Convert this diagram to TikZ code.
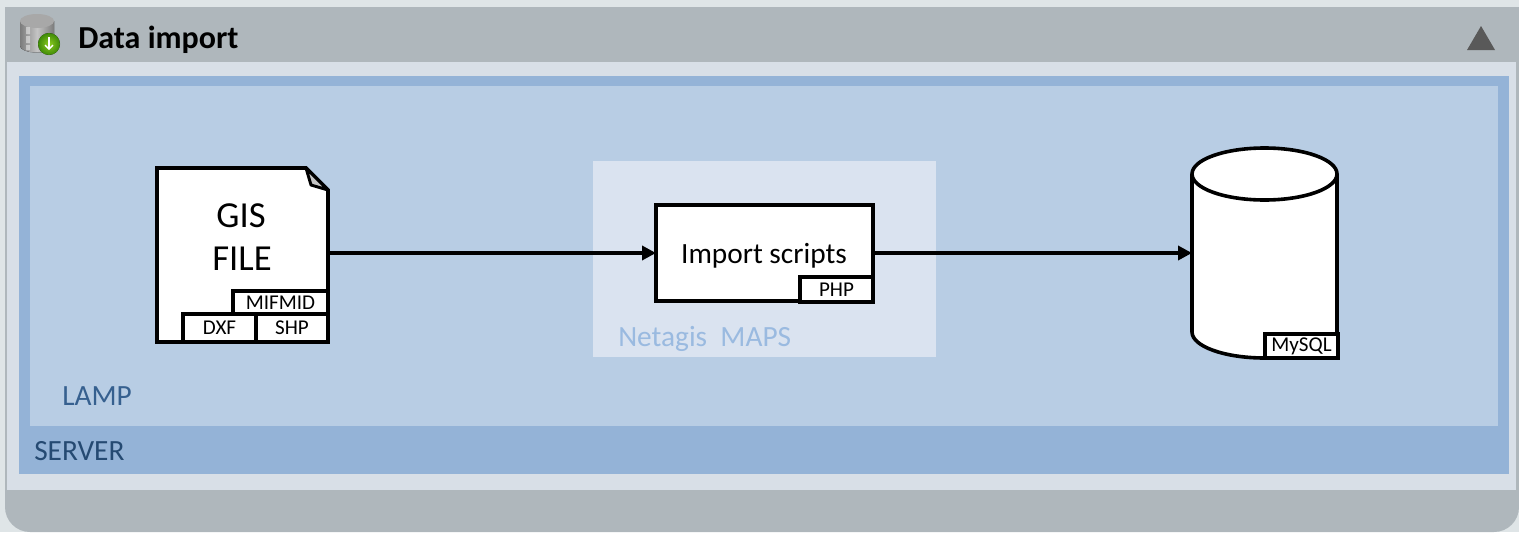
\documentclass[tikz,border=0pt]{standalone}
\usepackage{fontspec}
\setmainfont{Carlito}
\usetikzlibrary{arrows.meta,shadings}
\definecolor{pagebg}{HTML}{DFE5E7}
\definecolor{barcol}{HTML}{AFB7BC}
\definecolor{panelcol}{HTML}{D8DFE7}
\definecolor{servercol}{HTML}{94B3D7}
\definecolor{lampcol}{HTML}{B8CDE4}
\definecolor{mapscol}{HTML}{DAE3F0}
\definecolor{serverink}{HTML}{254A72}
\definecolor{lampink}{HTML}{36608F}
\definecolor{mapsink}{HTML}{9ABAE0}
\definecolor{trianglecol}{HTML}{595959}
\definecolor{ballin}{HTML}{8CCB1E}
\definecolor{ballout}{HTML}{3F8A08}
\definecolor{cylside}{HTML}{7C7C7C}
\definecolor{cylmid}{HTML}{C4C4C4}
\definecolor{cyltop}{HTML}{A8A8A8}
\tikzset{
  px/.style={x=0.75pt,y=-0.75pt},
  heavy/.style={draw=black,line width=2.7pt,line join=miter},
  boxed/.style={heavy,fill=white,inner sep=0pt,outer sep=0pt,anchor=north west,text=black,font=\fontsize{15.8pt}{18pt}\selectfont},
  anchorbox/.style={inner sep=0pt,outer sep=0pt,anchor=north west},
  flow/.style={draw=black,line width=2.7pt,-{Triangle[length=10.5pt,width=10.5pt]},shorten <=0pt,shorten >=0pt},
  biglabel/.style={inner sep=0pt,font=\fontsize{27.5pt}{32pt}\selectfont,text=black},
  tier/.style={inner sep=0pt,anchor=base west,font=\fontsize{22pt}{26pt}\selectfont},
}
\begin{document}
\begin{tikzpicture}[px]
\useasboundingbox (0,0) rectangle (1519,532);
\fill[pagebg] (0,0) rectangle (1519,532);
% panel
\fill[barcol] (5,7) -- (1519,7) -- (1519,507) arc[start angle=0,end angle=90,radius=25] -- (30,532) arc[start angle=90,end angle=180,radius=25] -- cycle;
\fill[panelcol] (7,62) rectangle (1516,490);
\fill[servercol] (19,76) rectangle (1509,474);
\fill[lampcol] (30,86) rectangle (1498,426);
\fill[mapscol] (593,161) rectangle (936,357);
% header
\fill[trianglecol] (1467,50) -- (1495,50) -- (1481,26) -- cycle;
\node[inner sep=0pt,anchor=base west,font=\bfseries\fontsize{24pt}{28pt}\selectfont] (title) at (78,48) {Data import};
% icon
\fill[left color=cylside,right color=cylside,middle color=cylmid] (20,21) -- (20,46) arc[start angle=180,end angle=0,x radius=17,y radius=6.5] -- (54,21) -- cycle;
\fill[cyltop] (37,21) ellipse[x radius=17,y radius=7];
\fill[white,opacity=.45] (26,27) rectangle (30,34) (26,36) rectangle (30,43) (26,45) rectangle (30,50);
\fill[inner color=ballin,outer color=ballout] (49,44) circle[radius=11];
\draw[white,line width=1pt,-{Straight Barb[length=3pt,width=6pt]}] (49,37) -- (49,50);
% tier labels
\node[tier,text=serverink] (server) at (34,460) {SERVER};
\node[tier,text=lampink] (lamp) at (62,405) {LAMP};
\node[tier,text=mapsink] (maps) at (618,346) {Netagis\ \ MAPS};
% GIS file
\filldraw[heavy,fill=white] (157,168) -- (306,168) -- (328,190) -- (328,342) -- (157,342) -- cycle;
\filldraw[draw=black,line width=2.2pt,line join=round,fill=gray!45] (306,168) -- (311,185) -- (328,190) -- cycle;
\node[anchorbox,minimum width=171*0.75pt,minimum height=174*0.75pt] (file) at (157,168) {};
\node[biglabel] (gis) at (241,216) {GIS};
\node[biglabel] (filelabel) at (242,259) {FILE};
\node[boxed,minimum width=95*0.75pt,minimum height=24*0.75pt] (mif) at (233,291) {MIFMID};
\node[boxed,minimum width=73*0.75pt,minimum height=28*0.75pt] (dxf) at (183,314) {DXF};
\node[boxed,minimum width=72*0.75pt,minimum height=28*0.75pt] (shp) at (256,314) {SHP};
% Import box
\node[boxed,minimum width=217*0.75pt,minimum height=96*0.75pt] (import) at (656,205) {};
\node[inner sep=0pt,font=\fontsize{22pt}{26pt}\selectfont] (importlabel) at (764,256) {Import scripts};
\node[boxed,minimum width=73*0.75pt,minimum height=25*0.75pt] (php) at (800,277) {PHP};
% database
\filldraw[heavy,fill=white] (1192,174) -- (1192,332) arc[start angle=180,end angle=90,x radius=72.5,y radius=26] -- (1337,358) -- (1337,174) arc[start angle=0,end angle=-180,x radius=72.5,y radius=26] -- cycle;
\draw[heavy] (1192,174) arc[start angle=180,end angle=0,x radius=72.5,y radius=26];
\node[anchorbox,minimum width=145*0.75pt,minimum height=210*0.75pt] (db) at (1192,148) {};
\node[boxed,minimum width=73*0.75pt,minimum height=24*0.75pt] (mysql) at (1265,334) {MySQL};
% connectors
\draw[flow] (file.east |- 0,253) -- (import.west |- 0,253);
\draw[flow] (import.east |- 0,253) -- (db.west |- 0,253);
\end{tikzpicture}
\end{document}
